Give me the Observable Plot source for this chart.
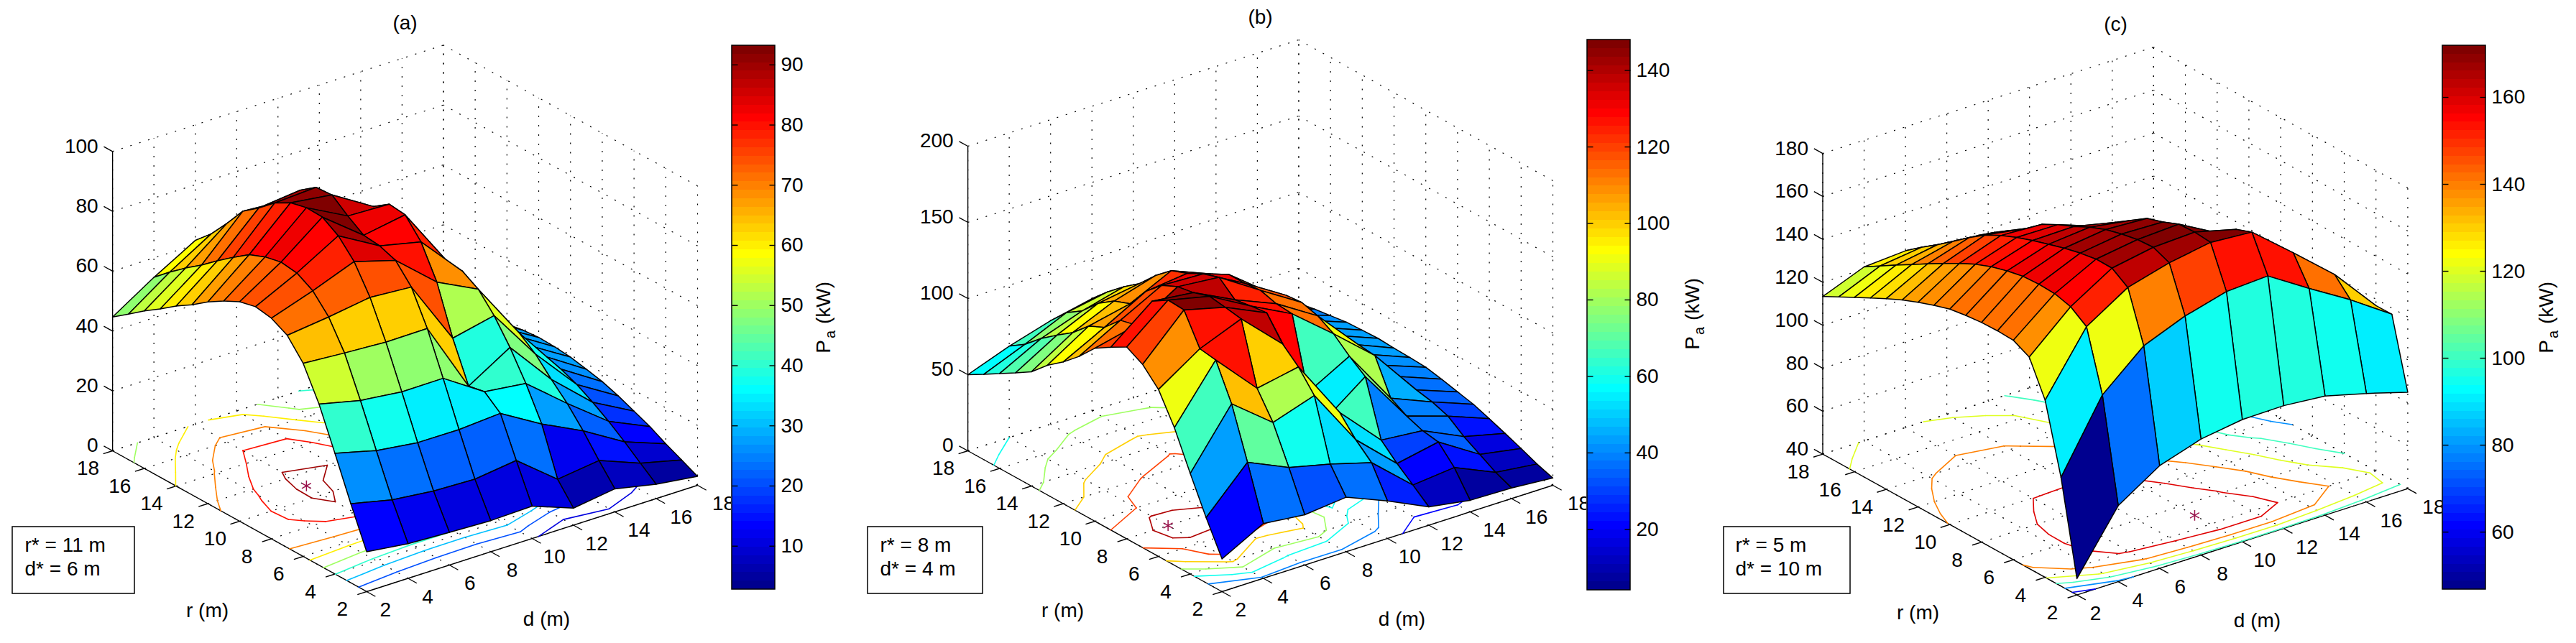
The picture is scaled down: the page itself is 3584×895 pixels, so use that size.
<!DOCTYPE html>
<html>
<head>
<meta charset="utf-8">
<style>html,body{margin:0;padding:0;background:#fff}#row{display:flex;width:3584px;height:895px;overflow:hidden}svg{display:block;flex:none}</style>
<script src="https://cdn.jsdelivr.net/npm/d3@7"></script>
<script src="https://cdn.jsdelivr.net/npm/@observablehq/plot@0.6"></script>
</head>
<body>
<div id="row"></div>
<script>
const rValues = [2,3,4,5,6,7,8,9,10,11,12,13,14,15,16,17,18];
const dValues = [2,4,6,8,10,12,14,16,18];
const axisTicks = [2,4,6,8,10,12,14,16,18];

// Pa (kW), one row for each r, one column for each d
const valuesA = [
[13.3,11.6,10.9,10.4,10.8,5.7,7.7,4.8,3.0],
[26.4,23.3,21.8,21.3,23.1,12.4,14.2,8.9,5.5],
[40.3,36.8,35.0,34.9,35.9,27.9,21.2,13.1,8.0],
[53.8,50.6,49.0,49.1,40.2,38.5,27.4,17.0,10.8],
[64.5,63.5,62.7,62.8,39.1,47.6,32.5,20.4,13.0],
[70.9,72.6,74.7,73.7,52.2,55.3,38.0,23.4,15.2],
[73.7,78.4,83.7,79.7,68.0,61.2,42,25.6,17],
[74.6,81.4,89.4,81.6,78.5,64.3,42,26.9,18.2],
[73.3,82.1,92.7,82.2,84.6,64.9,43,27.6,19.3],
[70.6,80.9,92.9,85.7,85.2,66,43,28.2,19.8],
[67.4,78.7,91.6,89.8,81.5,66,42,28,20],
[63.5,74.9,88.6,89.4,72,63,41,27.5,19.5],
[60.1,70.8,84,85.5,66,59,39,26.5,18.6],
[56.2,66.4,80,79,61,55,37,25,17.8],
[52.6,62.5,73,71.5,54,49,34,23,17],
[48.6,58.2,66.5,64.5,48,43,30,21,16],
[44.7,53.5,61.4,57,43,37,26,19,15]];
const valuesB = [
[21.5,36,33,35.8,24.7,12,7.6,7,4.8],
[42.8,70.4,58.3,51.8,44,20.6,23.3,11.4,8.2],
[66,103,82,91,53.3,28.9,34.3,17.5,12.6],
[90.3,126,98.7,104,65.3,38.5,36,23.4,16.7],
[109.6,127.6,138.5,113.3,54,74.4,39.8,31,20.6],
[120.3,147.3,140.3,128,67,82,45.7,34.6,24.3],
[126,148,141.8,126.7,112.8,91,68,36.7,26.7],
[120,141.5,138.4,125,113.7,97,69,39.6,29.2],
[113.6,120,136.5,134,116.7,100,66,41.3,31.3],
[102.4,117.4,131.6,130.4,115.6,99,64,42.7,31.9],
[93,107,121.9,125,115.6,94.8,62,43.5,32.3],
[85,102,108,121,110,91.4,60,43.5,32.9],
[75,92,104,112,102,86,58,43,32.5],
[68.5,84.5,96.7,101,96,80,55,42,32],
[62.3,76.5,86,93,88,73,51,40,30.5],
[56,67,79,84,79,65,47,38,29],
[50,60,68,73.7,70,57,42,35,27]];
const valuesC = [
[47.6,75.4,87.8,94,96.9,97.2,95.5,90.5,84.9],
[90.6,122.8,139.5,147.2,152.4,153.5,141.5,130,117.1],
[122.5,150.5,162.6,167.9,171.2,169.8,154,137.7,117],
[138.5,155.7,167.5,171,171.9,167,150,131,112],
[142.2,157.7,167.6,170.5,171.5,161,145,123,100],
[142.5,158,166.3,169,168.4,157,140,116,93],
[142.3,157.6,164.5,167,166,152,134,110,87],
[141.5,156,162.2,164,161,146,127,103,81.5],
[140.3,153.9,159.9,160.2,156,138,120,93,76],
[138,150.9,157.2,157,150,132,113,88,73],
[135.3,147.2,154,153,145,126,107,84,70],
[132.3,143.1,150.1,147,139,120,101,80,67],
[128.8,138.8,144.8,142,134,114,96,77,65],
[125,134.4,139,137,128,105,91,74,63],
[121.2,130,133.3,131.5,122,100,86,71,62],
[117.3,125.5,128,125,116,94,82,68,61],
[113.4,121,122.3,117,108,88,78,65,60]];

const zTicksA = [0,20,40,60,80,100];
const zTicksB = [0,50,100,150,200];
const zTicksC = [40,60,80,100,120,140,160,180];
const levelsA = [10,20,30,40,50,60,70,80,90];
const levelsB = [20,40,60,80,100,120,140];
const levelsC = [60,80,100,120,140,160];
const barTicksA = [10,20,30,40,50,60,70,80,90];
const barTicksB = [20,40,60,80,100,120,140];
const barTicksC = [60,80,100,120,140,160];

// MATLAB's 64-step jet colour map
const jet = d3.range(64).map(i => {
  const t = (i + 1) / 64;
  const ch = c => Math.round(255 * Math.max(0, Math.min(1, 1.5 - Math.abs(4 * t - c))));
  return `rgb(${ch(3)},${ch(2)},${ch(1)})`;
});

const FONT = "Liberation Sans";
const H = 895;

const panels = [
 {width:1190, values:valuesA, zTicks:zTicksA, levels:levelsA, barTicks:barTicksA, barDomain:[2.8,93.2],
  title:"(a)", note:["r* = 11 m","d* = 6 m"], star:{r:11,d:6},
  o:[509.7,823], dv:[28.77,-9.25], rv:[-22.1,-12.25], zPx:4.167, zMin:0,
  titleAt:[563,32], rAt:[288,850], dAt:[760,862], box:[17,187,733,826], noteX:34,
  bar:[1018,1078,63,820], pa:[1146,442]},
 {width:1194, values:valuesB, zTicks:zTicksB, levels:levelsB, barTicks:barTicksB, barDomain:[4.1,148],
  title:"(b)", note:["r* = 8 m","d* = 4 m"], star:{r:8,d:4},
  o:[509.7,823], dv:[28.77,-9.25], rv:[-22.1,-12.25], zPx:2.12, zMin:0,
  titleAt:[563,24], rAt:[288,850], dAt:[760,862], box:[17,177,733,826], noteX:34,
  bar:[1018,1078,55,821], pa:[1165,437]},
 {width:1200, values:valuesC, zTicks:zTicksC, levels:levelsC, barTicks:barTicksC, barDomain:[46.8,171.9],
  title:"(c)", note:["r* = 5 m","d* = 10 m"], star:{r:5,d:10},
  o:[505.1,827.6], dv:[28.77,-9.25], rv:[-22.1,-12.25], zPx:2.989, zMin:40,
  titleAt:[559,34], rAt:[284,853], dAt:[756,864], box:[14,190,733,826], noteX:30,
  bar:[1014,1074,63,820], pa:[1159,442]}
];

function drawPanel(p) {
  const project = (d, r, z) => [
    p.o[0] + (d - 2) * p.dv[0] + (r - 2) * p.rv[0],
    p.o[1] + (d - 2) * p.dv[1] + (r - 2) * p.rv[1] - (z - p.zMin) * p.zPx
  ];
  const zMax = p.zTicks[p.zTicks.length - 1];

  // dotted box grid
  const grid = [];
  const addLine = (a, b) => {
    const id = grid.length;
    const A = project(...a), B = project(...b);
    grid.push({id, x:A[0], y:A[1]}, {id, x:B[0], y:B[1]});
  };
  for (const t of axisTicks) {
    addLine([2,t,p.zMin],[18,t,p.zMin]);
    addLine([t,2,p.zMin],[t,18,p.zMin]);
    addLine([t,18,p.zMin],[t,18,zMax]);
    addLine([18,t,p.zMin],[18,t,zMax]);
  }
  for (const z of p.zTicks) {
    addLine([2,18,z],[18,18,z]);
    addLine([18,2,z],[18,18,z]);
  }

  // surface faces, far ones first; each face takes the colour of its lowest corner index
  const faces = [];
  for (let i = rValues.length - 2; i >= 0; i--) {
    for (let j = dValues.length - 2; j >= 0; j--) {
      const id = `${i}-${j}`, v = p.values[i][j];
      for (const [a, b] of [[i,j],[i,j+1],[i+1,j+1],[i+1,j],[i,j]]) {
        const [x, y] = project(dValues[b], rValues[a], p.values[a][b]);
        faces.push({id, x, y, v});
      }
    }
  }

  // contour projected on the floor, from the same grid
  const segs = [];
  for (const level of p.levels) {
    for (let i = 0; i < rValues.length - 1; i++) {
      for (let j = 0; j < dValues.length - 1; j++) {
        const c = [[i,j],[i,j+1],[i+1,j+1],[i+1,j]];
        const pts = [];
        for (let e = 0; e < 4; e++) {
          const [a1,b1] = c[e], [a2,b2] = c[(e+1)%4];
          const v1 = p.values[a1][b1], v2 = p.values[a2][b2];
          if ((v1 < level) !== (v2 < level)) {
            const t = (level - v1) / (v2 - v1);
            const d = dValues[b1] + t * (dValues[b2] - dValues[b1]);
            const r = rValues[a1] + t * (rValues[a2] - rValues[a1]);
            pts.push(project(d, r, p.zMin));
          }
        }
        for (let s = 0; s + 1 < pts.length; s += 2) {
          segs.push({x1:pts[s][0], y1:pts[s][1], x2:pts[s+1][0], y2:pts[s+1][1], v:level});
        }
      }
    }
  }

  const P0 = project(2,2,p.zMin), PD = project(18,2,p.zMin), PR = project(2,18,p.zMin), PZ = project(2,18,zMax);
  const axes = [
    {x1:P0[0],y1:P0[1],x2:PD[0],y2:PD[1]},
    {x1:P0[0],y1:P0[1],x2:PR[0],y2:PR[1]},
    {x1:PR[0],y1:PR[1],x2:PZ[0],y2:PZ[1]}
  ];
  const tickLink = (a, b) => { const A = project(...a), B = project(...b); return {x1:A[0],y1:A[1],x2:B[0],y2:B[1]}; };
  for (const t of axisTicks) {
    axes.push(tickLink([2,t,p.zMin],[1.55,t,p.zMin]));
    axes.push(tickLink([t,2,p.zMin],[t,1.45,p.zMin]));
  }
  for (const z of p.zTicks) axes.push(tickLink([2,18,z],[2,18.55,z]));

  const rLabels = axisTicks.map(t => { const [x,y] = project(2,t,p.zMin); return {x,y,t}; });
  const dLabels = axisTicks.map(t => { const [x,y] = project(t,2,p.zMin); return {x:x+26+(t-2)*0.625,y,t}; });
  const zLabels = p.zTicks.map(t => { const [x,y] = project(2,18,t); return {x,y,t}; });

  // colour bar
  const [b0,b1,bTop,bBot] = p.bar;
  const barY = d3.scaleLinear().domain(p.barDomain).range([bBot,bTop]);
  const step = (p.barDomain[1]-p.barDomain[0]) / 64;
  const cells = d3.range(64).map(i => ({
    lo:p.barDomain[0]+i*step, hi:p.barDomain[0]+(i+1)*step, v:p.barDomain[0]+(i+.5)*step}));
  const barLinks = [];
  for (const t of p.barTicks) {
    const y = barY(t);
    barLinks.push({x1:b0,y1:y,x2:b0+8,y2:y},{x1:b1-8,y1:y,x2:b1,y2:y});
  }
  const barLabels = p.barTicks.map(t => ({x:b1+8,y:barY(t),t}));

  const txt = {fontFamily:FONT, fontSize:28, fill:"black"};
  const star = project(p.star.d, p.star.r, p.zMin);

  return Plot.plot({
    width:p.width, height:H, margin:0,
    style:{background:"white", fontFamily:FONT},
    x:{domain:[0,p.width], range:[0,p.width], axis:null},
    y:{domain:[0,H], range:[0,H], axis:null},
    color:{type:"quantize", domain:p.barDomain, range:jet},
    marks:[
      Plot.line(grid,{x:"x",y:"y",z:"id",stroke:"black",strokeWidth:1.2,strokeDasharray:"2,11",strokeLinecap:"butt"}),
      Plot.link(axes,{x1:"x1",y1:"y1",x2:"x2",y2:"y2",stroke:"black",strokeWidth:1.4}),
      Plot.text(rLabels,{x:"x",y:"y",text:"t",dx:-34,dy:25,...txt}),
      Plot.text(dLabels,{x:"x",y:"y",text:"t",dy:26,...txt}),
      Plot.text(zLabels,{x:"x",y:"y",text:"t",dx:-20,dy:-7,textAnchor:"end",...txt}),
      Plot.link(segs,{x1:"x1",y1:"y1",x2:"x2",y2:"y2",stroke:"v",strokeWidth:1.6,strokeLinecap:"round"}),
      Plot.dot([star],{x:d=>d[0],y:d=>d[1],symbol:"asterisk",r:7,stroke:"#99104a",strokeWidth:1.5}),
      Plot.line(faces,{x:"x",y:"y",z:"id",fill:"v",stroke:"black",strokeWidth:1.5,strokeLinejoin:"round"}),
      Plot.rect([p.box],{x1:d=>d[0],x2:d=>d[1],y1:d=>d[2],y2:d=>d[3],fill:"white",stroke:"black",strokeWidth:1.5}),
      Plot.text(p.note,{x:p.noteX,y:(d,i)=>759+33*i,text:d=>d,textAnchor:"start",...txt}),
      Plot.text([p.title],{x:p.titleAt[0],y:p.titleAt[1],text:d=>d,...txt}),
      Plot.text(["r (m)"],{x:p.rAt[0],y:p.rAt[1],text:d=>d,...txt}),
      Plot.text(["d (m)"],{x:p.dAt[0],y:p.dAt[1],text:d=>d,...txt}),
      Plot.rect([p.bar],{x1:d=>d[0]-1,x2:d=>d[1]+1,y1:d=>d[2],y2:d=>d[3],fill:"white"}),
      Plot.rect(cells,{x1:b0,x2:b1,y1:d=>barY(d.lo),y2:d=>barY(d.hi),fill:"v",shapeRendering:"crispEdges"}),
      Plot.rect([p.bar],{x1:d=>d[0],x2:d=>d[1],y1:d=>d[2],y2:d=>d[3],fill:"none",stroke:"black",strokeWidth:1.5}),
      Plot.link(barLinks,{x1:"x1",y1:"y1",x2:"x2",y2:"y2",stroke:"black",strokeWidth:1.4}),
      Plot.text(barLabels,{x:"x",y:"y",text:"t",textAnchor:"start",...txt}),
      Plot.text(["P"],{x:p.pa[0],y:p.pa[1]+40,text:d=>d,rotate:-90,...txt}),
      Plot.text(["a"],{x:p.pa[0]+9,y:p.pa[1]+23,text:d=>d,rotate:-90,...txt,fontSize:20}),
      Plot.text(["(kW)"],{x:p.pa[0],y:p.pa[1]-21,text:d=>d,rotate:-90,...txt})
    ]
  });
}
const row = document.getElementById("row");
for (const p of panels) row.appendChild(drawPanel(p));
</script>
</body>
</html>
